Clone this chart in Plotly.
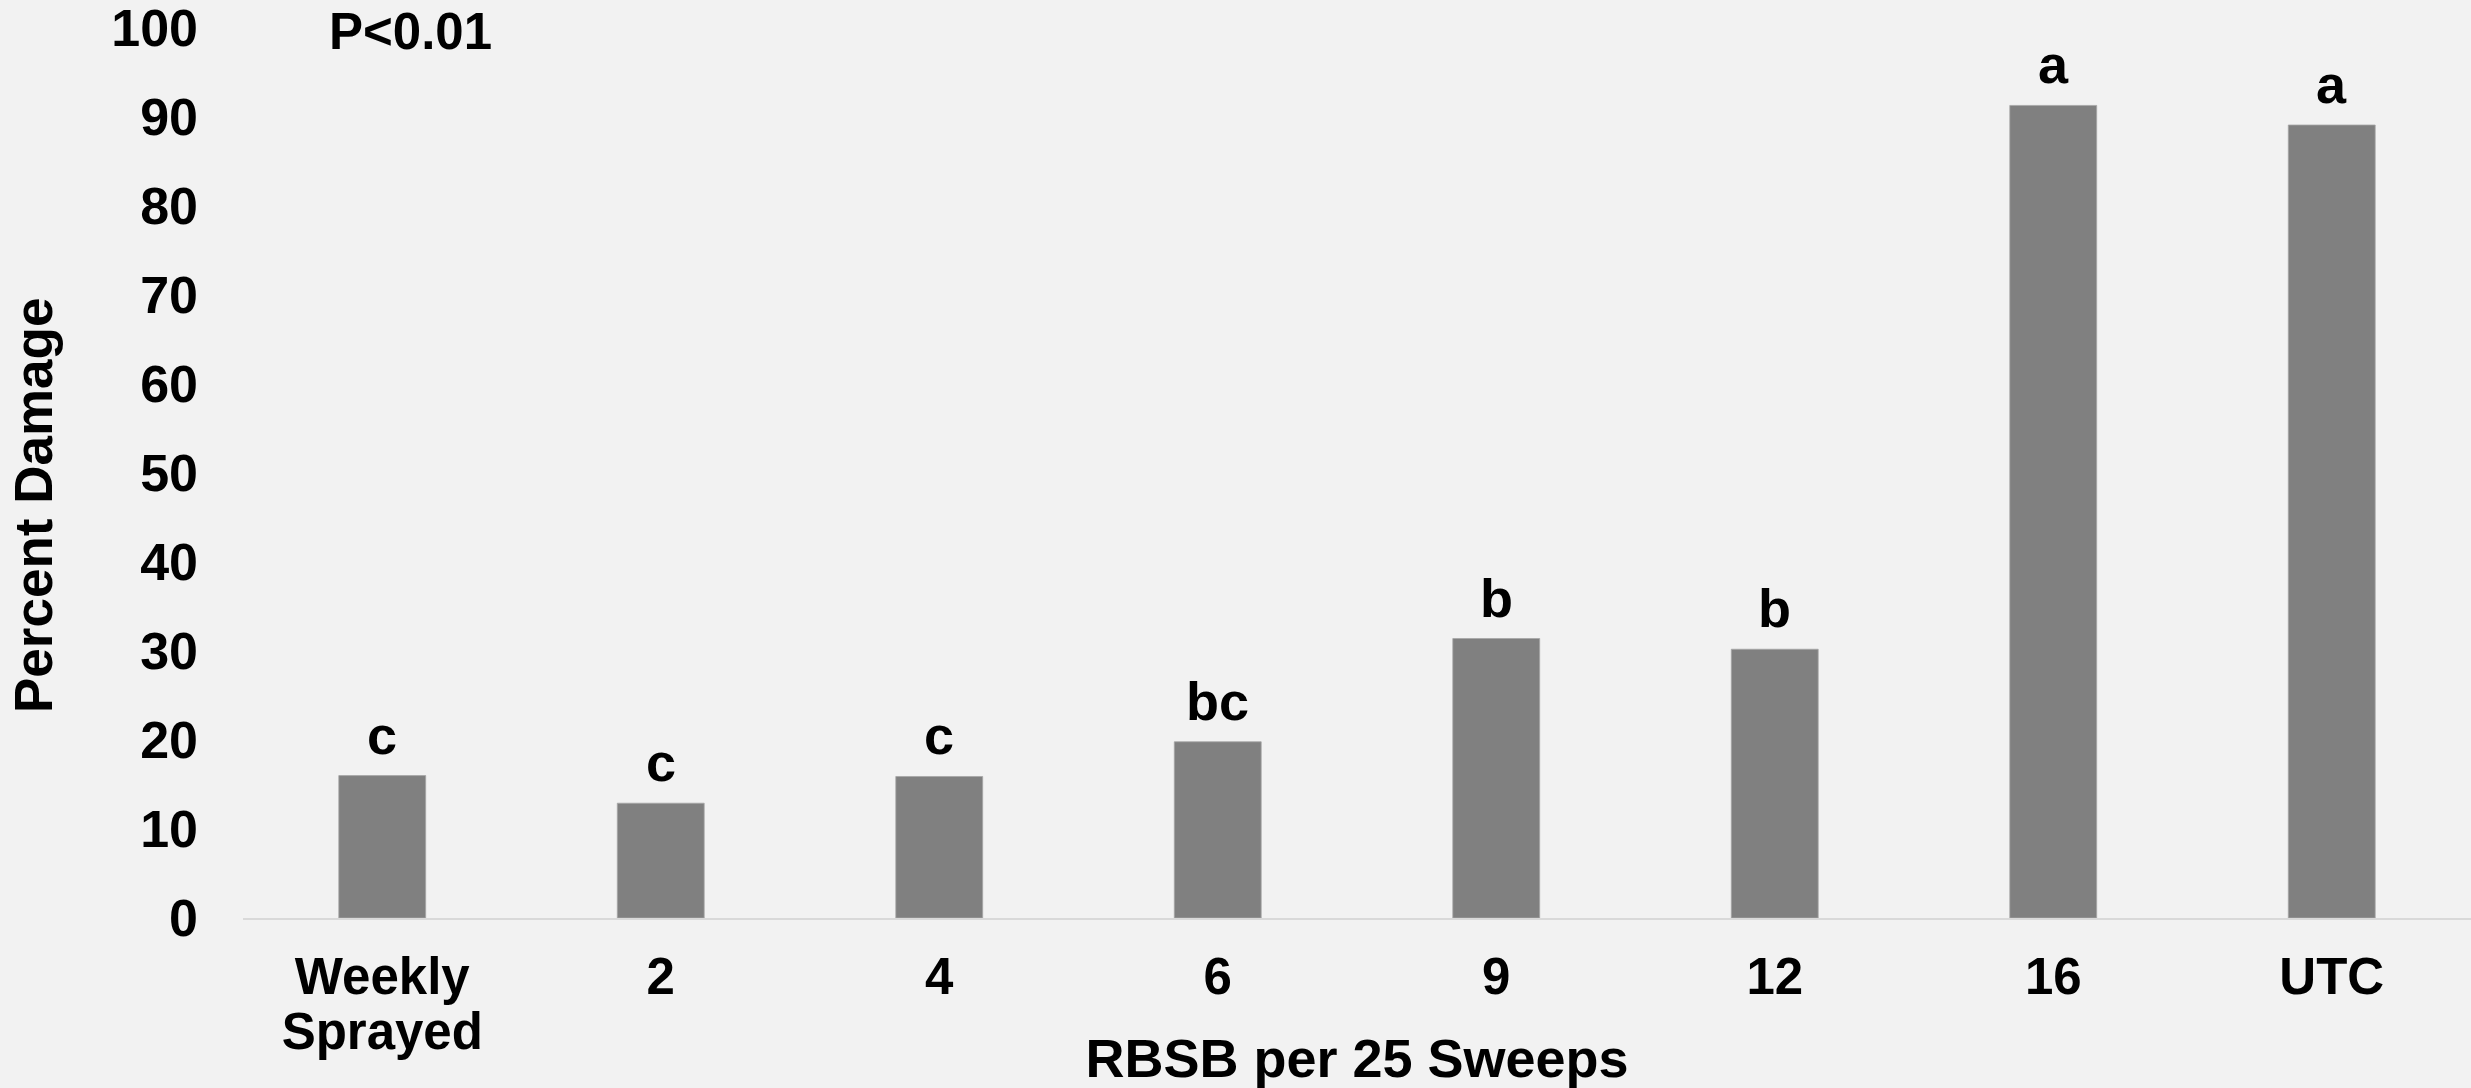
import plotly.graph_objects as go

# ---- data ----
categories = ["Weekly<br>Sprayed", "2", "4", "6", "9", "12", "16", "UTC"]
damage = [16.0, 12.9, 15.9, 19.8, 31.4, 30.2, 91.3, 89.1]
letters = ["c", "c", "c", "bc", "b", "b", "a", "a"]
y_ticks = [0, 10, 20, 30, 40, 50, 60, 70, 80, 90, 100]
x_title = "RBSB per 25 Sweeps"
y_title = "Percent Damage"
p_text = "P<0.01"

FONT = "Liberation Sans, Arial, sans-serif"
BG = "#f2f2f2"


def big(label, px=51):
    return "<br>".join(f'<span style="font-size:{px}px">{part}</span>' for part in label.split("<br>"))


fig = go.Figure()
fig.add_trace(go.Bar(
    x=categories, y=damage,
    marker=dict(color="#808080", line=dict(color="#a6a6a6", width=0.8)),
    width=0.312,
    hoverinfo="skip",
))

# significance letters: on a category axis annotations take the category index
for i, (v, t) in enumerate(zip(damage, letters)):
    fig.add_annotation(
        x=i, y=v, xref="x", yref="y", text=t, showarrow=False,
        yanchor="bottom", yshift=9,
        font=dict(family=FONT, size=54, color="black", weight="bold"),
    )

fig.add_annotation(
    x=(327 - 243) / 2228, y=0.996, xref="paper", yref="paper",
    xanchor="left", yanchor="middle", text=p_text, showarrow=False,
    font=dict(family=FONT, size=51, color="black", weight="bold"),
)

# y-axis title (placed slightly below the plot centre, as in the original)
fig.add_annotation(
    x=(34 - 243) / 2228, y=1 - (505 - 28) / 890, xref="paper", yref="paper",
    xanchor="center", yanchor="middle", textangle=-90, text=y_title, showarrow=False,
    font=dict(family=FONT, size=53, color="black", weight="bold"),
)

fig.update_layout(
    width=2471, height=1088,
    margin=dict(l=243, r=0, t=28, b=170, autoexpand=False),
    paper_bgcolor=BG, plot_bgcolor=BG,
    showlegend=False,
    bargap=0.688,
    font=dict(family=FONT, color="black", weight="bold"),
)

fig.update_xaxes(
    type="category",
    range=[-0.5, len(categories) - 0.5],
    tickmode="array", tickvals=categories, ticktext=[big(c) for c in categories],
    tickfont=dict(family=FONT, size=42, color="black", weight="bold"),
    showline=True, linecolor="#d9d9d9", linewidth=2,
    showgrid=False, ticks="", zeroline=False,
    ticklabelstandoff=24,
    automargin=False,
    title=dict(text=x_title, font=dict(family=FONT, size=54, color="black", weight="bold"), standoff=16),
)

fig.update_yaxes(
    range=[0, 100], tickmode="array", tickvals=y_ticks,
    tickfont=dict(family=FONT, size=52, color="black", weight="bold"),
    showline=False, showgrid=False, zeroline=False, ticks="",
    ticklabelstandoff=44, ticklabeloverflow="allow",
    automargin=False,
)

fig.write_html(
    "out.html",
    config={"displayModeBar": False},
    post_script="document.body.style.margin='0';document.body.style.background='%s';" % BG,
)
